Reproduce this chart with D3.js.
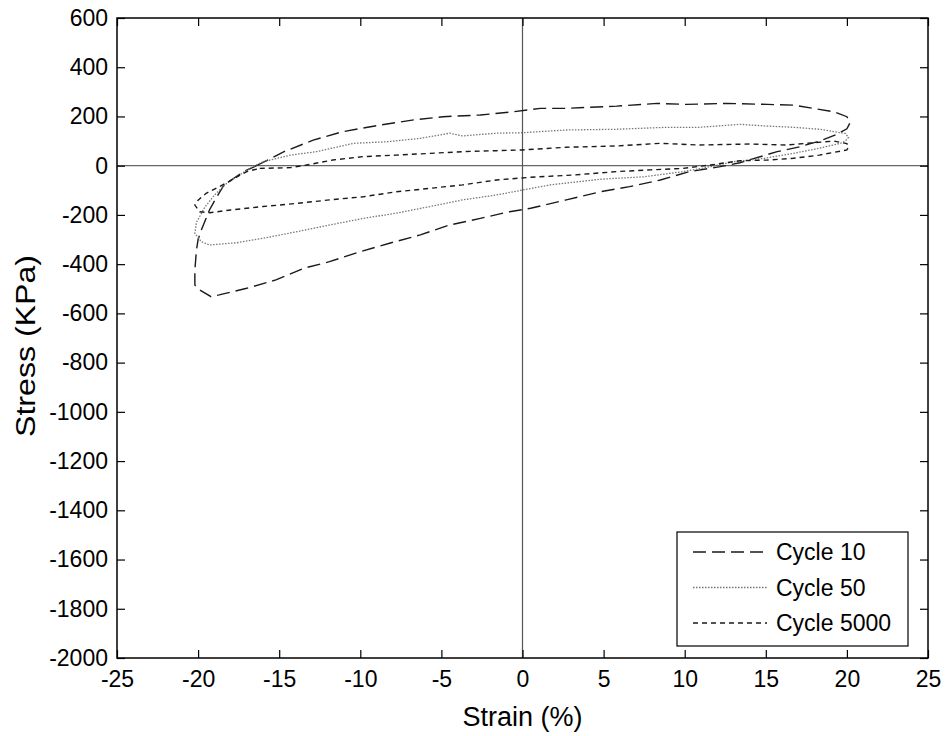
<!DOCTYPE html>
<html><head><meta charset="utf-8">
<script src="https://cdn.jsdelivr.net/npm/d3@7"></script>
<style>
body{margin:0;background:#fff;}
text{font-family:"Liberation Sans",Arial,sans-serif;fill:#000;}
</style></head>
<body><svg id="c" width="946" height="736"></svg>
<script>
const xTicks = [-25,-20,-15,-10,-5,0,5,10,15,20,25];
const yTicks = [600,400,200,0,-200,-400,-600,-800,-1000,-1200,-1400,-1600,-1800,-2000];
const seriesNames = ["Cycle 10","Cycle 50","Cycle 5000"];

const strain10 = [-16.4,-14.7,-12.9,-11.1,-8.8,-6.7,-4.9,-2.6,-0.6,1.1,2.7,5.8,8.3,10.1,12.6,15.1,16.7,17.9,19.2,20.0,20.2,20.0,19.3,18.3,17.1,15.7,13.4,12.2,10.3,8.5,6.6,4.8,2.7,0.5,-0.8,-2.6,-4.5,-6.3,-8.2,-10.0,-11.9,-13.5,-15.2,-17.0,-18.7,-19.2,-19.9,-20.2,-20.2,-20.1,-20.0,-19.8,-19.3,-18.9,-18.4,-17.8,-17.2,-16.4];
const stress10 = [0,57,104,138,165,186,199,206,219,233,233,242,253,249,253,249,246,233,219,199,175,150,125,100,77,57,12,-4,-24,-58,-85,-106,-139,-173,-187,-214,-241,-281,-315,-349,-390,-417,-464,-498,-525,-532,-505,-485,-424,-342,-300,-261,-180,-133,-78,-51,-24,0];

const strain50 = [-16.0,-14.3,-12.7,-10.4,-8.4,-6.3,-4.5,-3.7,-1.6,0.0,2.7,5.8,8.9,10.9,13.4,15.1,16.7,18.3,19.2,19.9,20.1,19.9,19.6,18.3,16.7,14.9,13.0,11.6,9.9,7.5,4.8,1.7,0.0,-1.6,-3.7,-5.7,-7.8,-9.8,-11.9,-13.9,-16.0,-17.6,-19.3,-19.8,-20.2,-20.1,-19.6,-19.0,-18.3,-17.5,-16.8,-16.0];
const stress50 = [16,43,57,91,97,111,132,121,132,134,145,148,156,156,168,161,156,148,138,131,115,100,91,71,50,30,16,-4,-24,-45,-55,-78,-99,-119,-139,-166,-193,-214,-241,-268,-295,-313,-322,-309,-275,-230,-170,-120,-75,-40,-10,16];

const strain5000 = [-16.2,-14.3,-13.3,-11.7,-9.8,-7.8,-5.7,-3.7,-1.6,0.0,2.7,5.8,8.5,10.9,14.0,16.3,18.1,19.2,20.0,20.1,20.0,18.3,16.7,15.1,13.4,11.6,9.9,7.9,5.8,3.1,0.5,-1.6,-3.7,-5.7,-7.8,-9.8,-11.9,-13.9,-16.0,-18.0,-19.3,-19.9,-20.2,-20.0,-19.5,-18.9,-18.2,-17.6,-17.0,-16.2];
const stress5000 = [-11,-8,3,23,37,43,50,57,61,64,75,80,91,84,88,84,94,100,90,75,64,43,30,23,20,3,-11,-17,-24,-38,-47,-58,-78,-92,-106,-126,-139,-153,-166,-180,-191,-187,-160,-140,-112,-92,-68,-45,-24,-11];

const L=117, R=928, T=18, B=658;
const svg = d3.select("#c");
const x = d3.scaleLinear().domain([-25,25]).range([L,R]);
const y = d3.scaleLinear().domain([-2000,600]).range([B,T]);

const series = [
  {name:seriesNames[0], xs:strain10, ys:stress10, color:"#1a1a1a", dash:"13,6", w:1.4},
  {name:seriesNames[1], xs:strain50, ys:stress50, color:"#777", dash:"1.5,1.5", w:1.3},
  {name:seriesNames[2], xs:strain5000, ys:stress5000, color:"#1a1a1a", dash:"5,4", w:1.4}
];

svg.append("line").attr("x1",L).attr("x2",R).attr("y1",y(0)).attr("y2",y(0)).attr("stroke","#666").attr("stroke-width",1.3);
svg.append("line").attr("x1",x(0)).attr("x2",x(0)).attr("y1",T).attr("y2",B).attr("stroke","#555").attr("stroke-width",1.2);

const line = d3.line().x(d=>x(d[0])).y(d=>y(d[1]));
series.forEach(s=>{
  const pts = s.xs.map((v,i)=>[v,s.ys[i]]);
  svg.append("path").attr("d",line(pts)).attr("fill","none").attr("stroke",s.color)
    .attr("stroke-width",s.w).attr("stroke-dasharray",s.dash);
});

const fmt = d => String(d);
const tl=8;
const gB = svg.append("g").attr("transform",`translate(0,${B})`)
  .call(d3.axisBottom(x).tickValues(xTicks).tickSizeInner(-tl).tickSizeOuter(0).tickPadding(13).tickFormat(fmt));
const gT = svg.append("g").attr("transform",`translate(0,${T})`)
  .call(d3.axisTop(x).tickValues(xTicks).tickSizeInner(-tl).tickSizeOuter(0).tickFormat(""));
const gL = svg.append("g").attr("transform",`translate(${L},0)`)
  .call(d3.axisLeft(y).tickValues(yTicks).tickSizeInner(-tl).tickSizeOuter(0).tickPadding(9).tickFormat(fmt));
const gR = svg.append("g").attr("transform",`translate(${R},0)`)
  .call(d3.axisRight(y).tickValues(yTicks).tickSizeInner(-tl).tickSizeOuter(0).tickFormat(""));
[gB,gT,gL,gR].forEach(g=>{
  g.selectAll(".domain").remove();
  g.selectAll(".tick line").attr("stroke","#000").attr("stroke-width",1.2);
  g.selectAll("text").style("font-size","23px").attr("fill","#000").style("font-family","Liberation Sans, Arial, sans-serif");
});
svg.append("rect").attr("x",L).attr("y",T).attr("width",R-L).attr("height",B-T)
  .attr("fill","none").attr("stroke","#000").attr("stroke-width",1.5);

svg.append("text").attr("x",(L+R)/2).attr("y",726).attr("text-anchor","middle")
  .style("font-size","27px").text("Strain (%)");
svg.append("text").attr("transform",`translate(35,346) rotate(-90)`).attr("text-anchor","middle")
  .style("font-size","27px").attr("textLength",182).attr("lengthAdjust","spacingAndGlyphs").text("Stress (KPa)");

const lg = svg.append("g");
lg.append("rect").attr("x",677).attr("y",532).attr("width",231).attr("height",114)
  .attr("fill","#fff").attr("stroke","#000").attr("stroke-width",1.2);
series.forEach((s,i)=>{
  const cy = 552 + i*35.5;
  lg.append("line").attr("x1",693).attr("x2",767).attr("y1",cy).attr("y2",cy)
    .attr("stroke",s.color).attr("stroke-width",s.w).attr("stroke-dasharray",s.dash);
  lg.append("text").attr("x",776).attr("y",cy+8).style("font-size","23px").text(s.name);
});
</script></body></html>
